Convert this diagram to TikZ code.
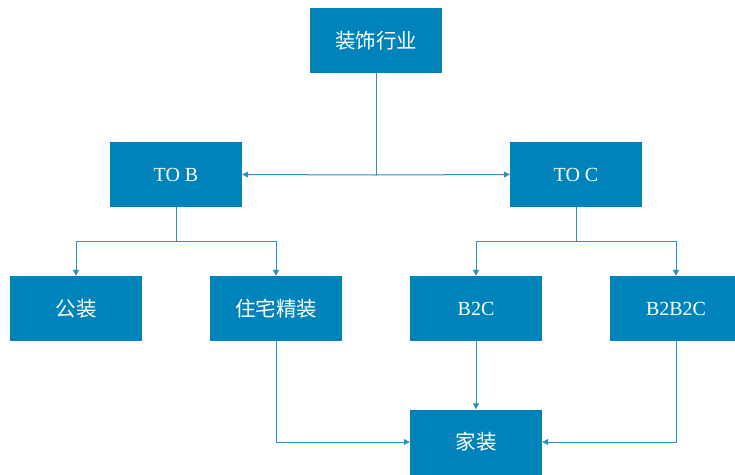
\documentclass[tikz,border=0pt]{standalone}
\usepackage{fontspec}
\setmainfont{Liberation Serif}
\newfontfamily\cjk{Noto Sans CJK SC}
\usetikzlibrary{arrows.meta}
\definecolor{boxblue}{RGB}{0,131,186}
\definecolor{lineblue}{RGB}{40,145,195}
\tikzset{
  bx/.style={fill=boxblue, draw=none, minimum width=132pt, minimum height=65pt, inner sep=0pt, text=white, font=\fontsize{20}{22}\selectfont},
  cn/.style={font=\cjk\fontsize{20.5}{22}\selectfont},
  conn/.style={draw=lineblue, line width=1pt, -{Triangle[length=6pt,width=6pt]}},
  plain/.style={draw=lineblue, line width=1pt}
}
\begin{document}
\begin{tikzpicture}[x=1pt,y=-1pt]
\useasboundingbox (0,0) rectangle (735,474);
\clip (0,0) rectangle (735,474);
\node[bx,cn] (top) at (376,40.5) {装饰行业};
\node[bx] (tob) at (176,174.5) {TO B};
\node[bx] (toc) at (576,174.5) {TO C};
\node[bx,cn] (gz) at (76,308.5) {公装};
\node[bx,cn] (zz) at (276,308.5) {住宅精装};
\node[bx] (b2c) at (476,308.5) {B2C};
\node[bx] (b2b2c) at (676,308.5) {B2B2C};
\node[bx,cn] (jz) at (476,442) {家装};
\coordinate (j1) at (376,175);
\coordinate (j2) at (176,241);
\coordinate (j3) at (576,241);
\draw[plain] (top.south) -- (j1);
\draw[conn] (j1) -- (tob.east);
\draw[conn] (j1) -- (toc.west);
\draw[plain] (tob.south) -- (j2);
\draw[conn] (j2) -| (gz.north);
\draw[conn] (j2) -| (zz.north);
\draw[plain] (toc.south) -- (j3);
\draw[conn] (j3) -| (b2c.north);
\draw[conn] (j3) -| (b2b2c.north);
\draw[conn] (zz.south) |- (jz.west);
\draw[conn] (b2c.south) -- (jz.north);
\draw[conn] (b2b2c.south) |- (jz.east);
\end{tikzpicture}
\end{document}
